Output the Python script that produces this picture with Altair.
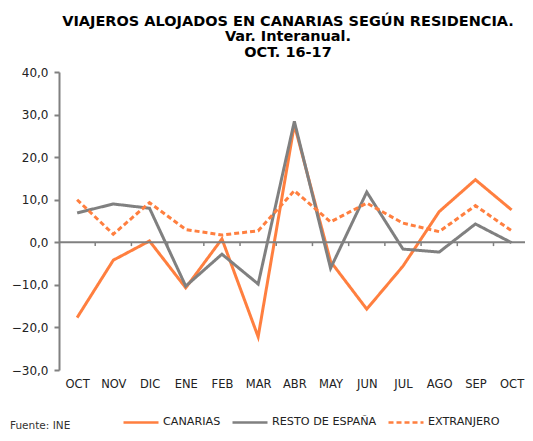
import altair as alt
import pandas as pd

months = ["OCT", "NOV", "DIC", "ENE", "FEB", "MAR", "ABR", "MAY", "JUN", "JUL", "AGO", "SEP", "OCT"]
canarias = [-17.7, -4.2, 0.3, -10.7, 0.8, -22.2, 27.6, -4.5, -15.7, -5.6, 7.2, 14.7, 7.6]
resto = [6.9, 9.0, 8.0, -10.3, -2.8, -9.8, 28.4, -6.1, 11.8, -1.6, -2.3, 4.3, -0.1]
extranjero = [10.0, 1.9, 9.3, 3.0, 1.7, 2.7, 12.1, 4.8, 9.2, 4.5, 2.5, 8.6, 2.7]
series = ["CANARIAS", "RESTO DE ESPAÑA", "EXTRANJERO"]
colors = ["#FF7F3F", "#808080", "#FF7F3F"]
dashes = [[1, 0], [1, 0], [5, 3]]
y_ticks = [-30, -20, -10, 0, 10, 20, 30, 40]

rows = []
for name, vals in zip(series, [canarias, resto, extranjero]):
    for i, v in enumerate(vals):
        rows.append({"idx": i, "serie": name, "valor": v})
df = pd.DataFrame(rows)

bounds = pd.DataFrame({"b": [i + 0.5 for i in range(len(months) - 1)]})

FONT = "DejaVu Sans"
GRAY = "#808080"

label_expr = "[" + ",".join("'" + m + "'" for m in months) + "][datum.value]"

x_scale = alt.Scale(domain=[-0.5, 12.37], nice=False, zero=False)
y_scale = alt.Scale(domain=[-30, 40], nice=False)

x_axis = alt.Axis(values=list(range(len(months))), labelExpr=label_expr,
                  domain=False, ticks=False, grid=False, labelPadding=8,
                  labelOverlap=False, labelFontSize=11.5, labelColor="#222",
                  labelFont=FONT)
y_axis = alt.Axis(values=y_ticks, labelExpr="replace(format(datum.value, '.1f'), '.', ',')",
                  grid=False, domainColor=GRAY, domainWidth=2, tickColor=GRAY,
                  tickWidth=2, tickSize=5, labelPadding=6, labelFontSize=12,
                  labelColor="#222", labelFont=FONT)

lines = alt.Chart(df).mark_line(strokeWidth=3).encode(
    x=alt.X("idx:Q", scale=x_scale, title=None, axis=x_axis),
    y=alt.Y("valor:Q", scale=y_scale, title=None, axis=y_axis),
    color=alt.Color("serie:N", title=None, scale=alt.Scale(domain=series, range=colors),
                    sort=series),
    strokeDash=alt.StrokeDash("serie:N", title=None, scale=alt.Scale(domain=series, range=dashes),
                              sort=series),
    detail="serie:N",
)

zero = alt.Chart(pd.DataFrame({"z": [0]})).mark_rule(color=GRAY, strokeWidth=2).encode(
    y=alt.Y("z:Q", scale=y_scale, title=None, axis=y_axis)
)

ticks = alt.Chart(bounds).mark_rule(color=GRAY, strokeWidth=1.5).encode(
    x=alt.X("b:Q", scale=x_scale, title=None, axis=x_axis),
    y=alt.datum(0),
    y2=alt.datum(-0.9),
)

fuente = alt.Chart(pd.DataFrame({"t": ["Fuente: INE"]})).mark_text(
    align="left", baseline="top", fontSize=10.5, font=FONT, color="#333"
).encode(text="t:N", x=alt.value(-49), y=alt.value(349))

chart = alt.layer(lines, zero, ticks, fuente).properties(
    width=466,
    height=298,
    autosize=alt.AutoSizeParams(type="none"),
    padding={"left": 51, "top": 64, "right": 0, "bottom": 62},
    title=alt.TitleParams(
        text=["VIAJEROS ALOJADOS EN CANARIAS SEGÚN RESIDENCIA.", "Var. Interanual.", "OCT. 16-17"],
        fontSize=14.5, font=FONT, fontWeight="bold", color="#000", anchor="middle",
        lineHeight=15.5, offset=6, dx=-4,
    ),
).configure_view(stroke=None).configure_legend(
    orient="none", legendX=63, legendY=331, direction="horizontal",
    symbolType="stroke", symbolSize=1225, symbolStrokeWidth=2.5,
    labelFontSize=11.2, labelFont=FONT, labelColor="#222", labelOffset=3,
    columnPadding=6,
)

chart.save("out.html", embed_options={"renderer": "svg", "actions": False})
